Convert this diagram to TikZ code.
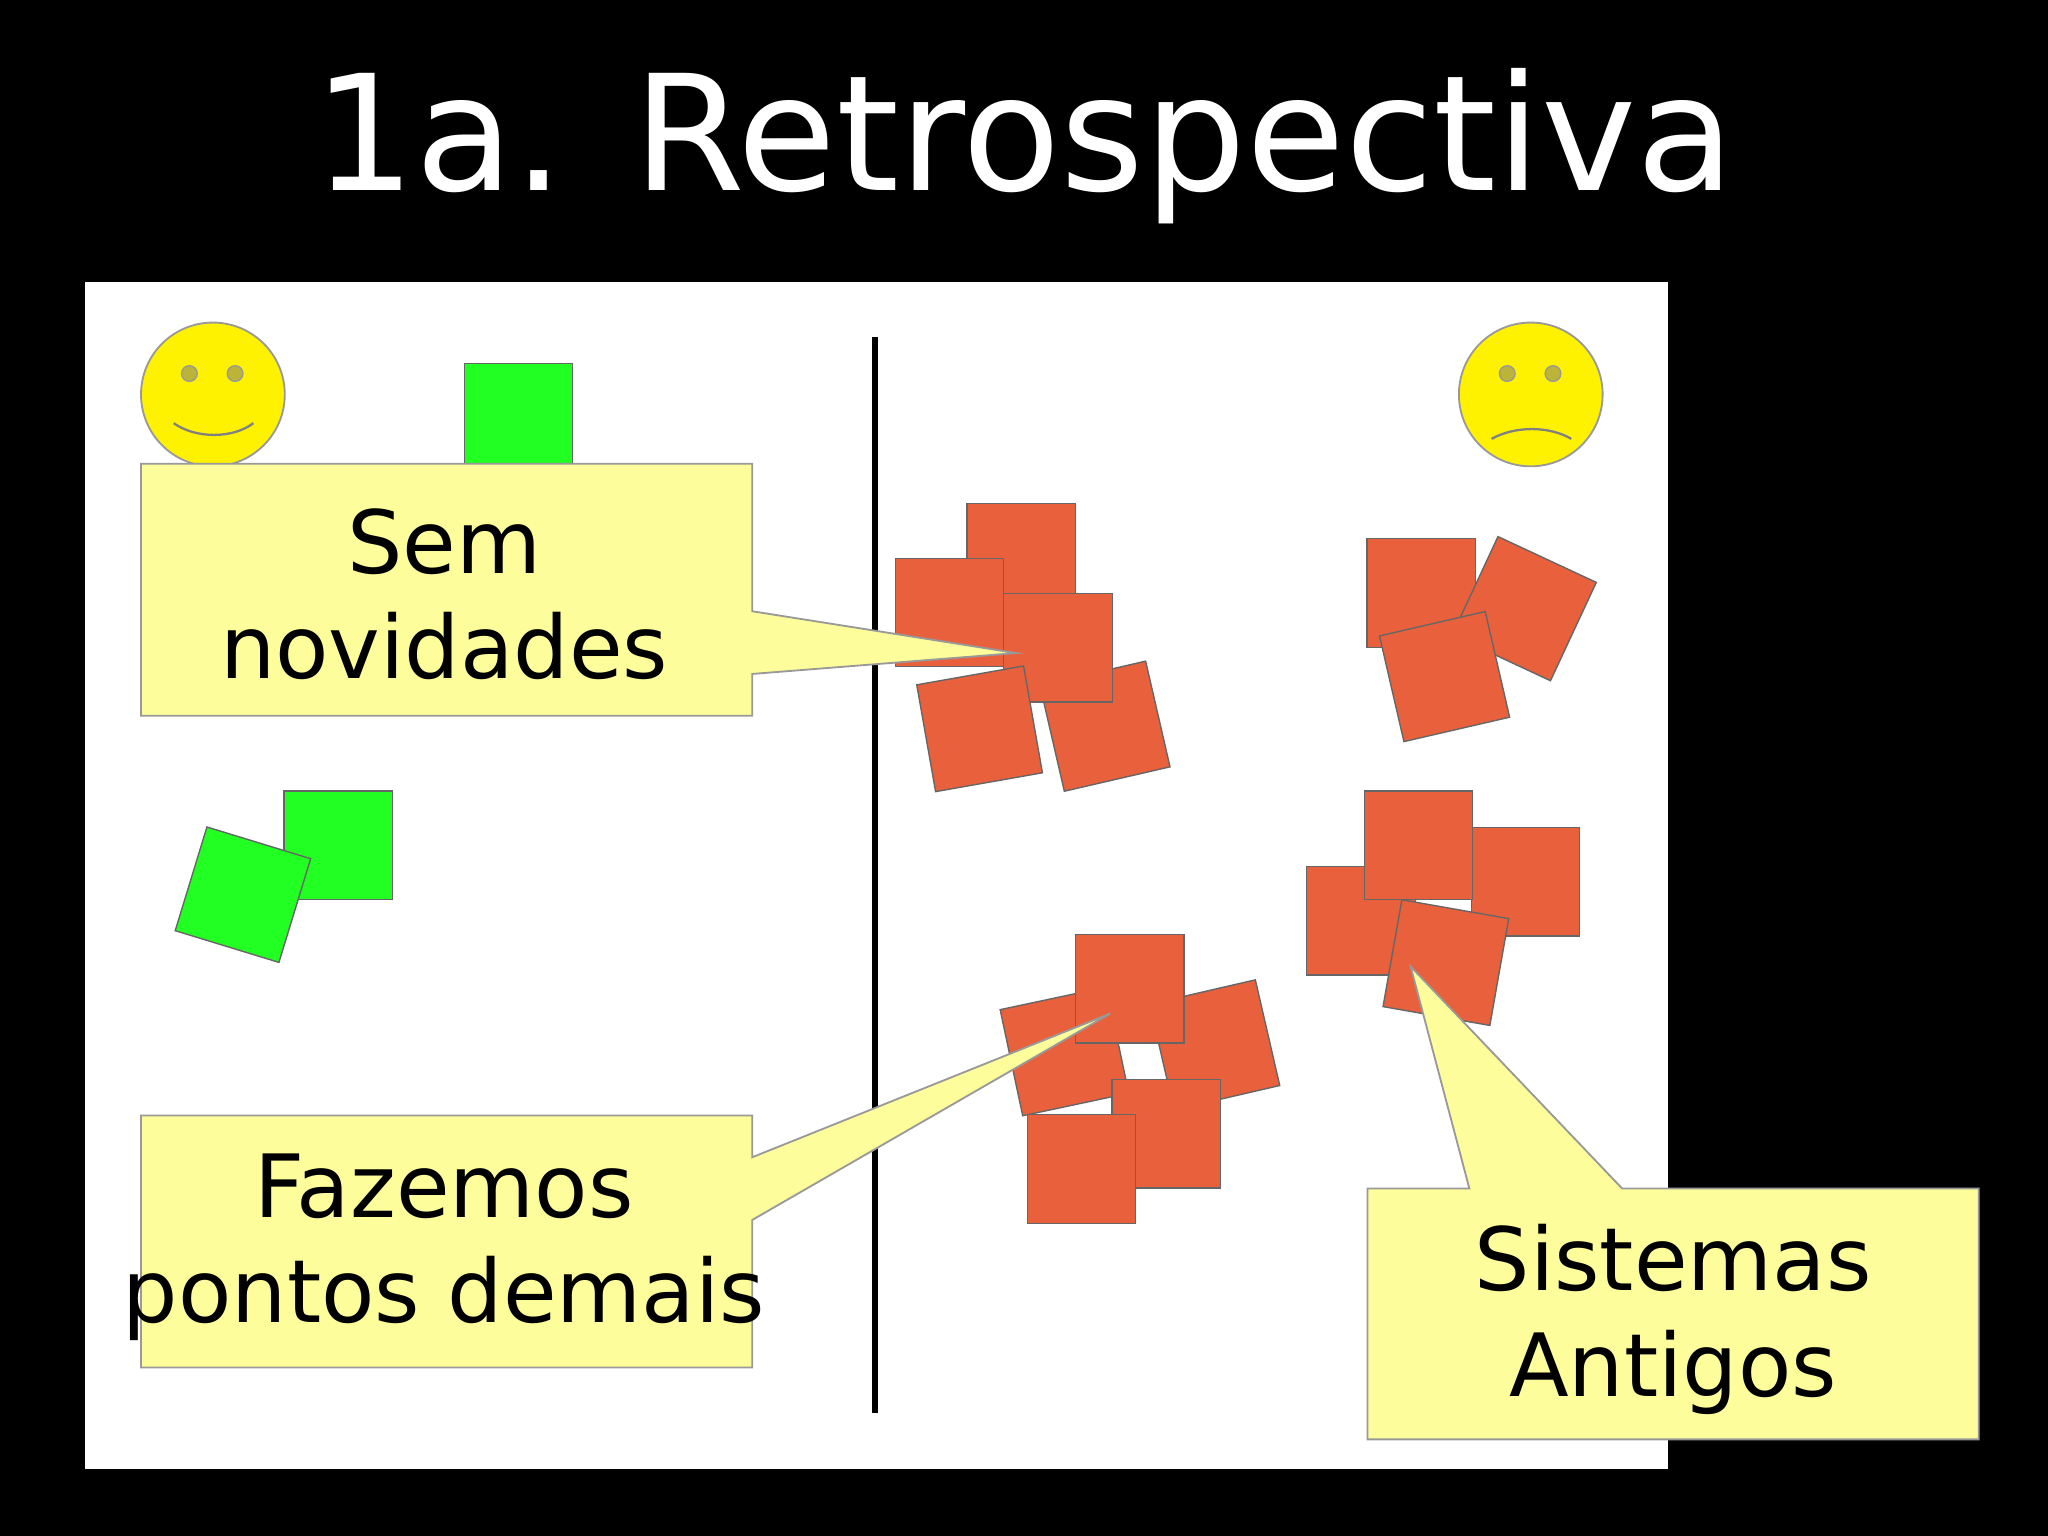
\documentclass[tikz,border=0pt]{standalone}
\usepackage{fontspec}
\setmainfont{DejaVu Sans}
\begin{document}
\begin{tikzpicture}[x=0.01cm,y=-0.01cm,
  red/.style={fill=stickyred, draw=black!60, line width=0.3pt},
  grn/.style={fill=stickygreen, draw=black!60, line width=0.3pt},
  callout/.style={fill=calloutyellow, draw=black!40, line width=0.4pt},
  face/.style={fill=yellow, draw=black!40, line width=0.4pt},
  eye/.style={fill=yellow!70!black, draw=black!40, line width=0.3pt},
  boxtext/.style={font=\fontsize{19}{23}\selectfont, align=center}]
\definecolor{stickyred}{HTML}{E8603C}
\definecolor{stickygreen}{HTML}{22FF22}
\definecolor{calloutyellow}{HTML}{FDFD9C}
\fill[black] (0,0) rectangle (1568,1176);
\useasboundingbox (0,0) rectangle (1568,1176);
\fill[white] (65,216) rectangle (1277,1125);
\node[text=white, font=\fontsize{35}{40}\selectfont] (title) at (784,112) {1a. Retrospectiva};
\coordinate (lt) at (670,258); \coordinate (lb) at (670,1082);
\draw[line width=1.3pt] (lt) -- (lb);
% smileys
\node[face, circle, minimum size=1.1cm, inner sep=0] (happy) at (163,302) {};
\node[eye, circle, minimum size=0.12cm, inner sep=0] (he1) at (145,286) {};
\node[eye, circle, minimum size=0.12cm, inner sep=0] (he2) at (180,286) {};
\draw[black!50, line width=0.5pt] (133,324) .. controls (150,336) and (178,336) .. (194,324);
\node[face, circle, minimum size=1.1cm, inner sep=0] (sad) at (1172,302) {};
\node[eye, circle, minimum size=0.12cm, inner sep=0] (se1) at (1154,286) {};
\node[eye, circle, minimum size=0.12cm, inner sep=0] (se2) at (1189,286) {};
\draw[black!50, line width=0.5pt] (1142,336) .. controls (1160,326) and (1186,326) .. (1203,336);
% green
\newcommand{\sq}[4]{\node[#1, minimum size=0.83cm, inner sep=0, rotate=#4] (#2) at (#3) {};}
\sq{grn}{g1}{397,320}{0}
\sq{grn}{g2}{259,647}{0}
\sq{grn}{g3}{186,685}{-17}
% red top cluster
\sq{red}{r1}{782,427}{0}
\sq{red}{r2}{727,469}{0}
\sq{red}{r4}{846,556}{13}
\sq{red}{r3}{810,496}{0}
\sq{red}{r5}{750,558}{10}
% top right
\sq{red}{r6}{1088,454}{0}
\sq{red}{r7}{1167,466}{-25}
\sq{red}{r8}{1106,518}{13}
% middle right
\sq{red}{r9}{1042,705}{0}
\sq{red}{r10}{1168,675}{0}
\sq{red}{r11}{1086,647}{0}
\sq{red}{r12}{1107,737}{-10}
% bottom
\sq{red}{r13}{815,805}{12}
\sq{red}{r15}{930,800}{13}
\sq{red}{r14}{865,757}{0}
\sq{red}{r16}{893,868}{0}
\sq{red}{r17}{828,895}{0}
% callouts
\coordinate (p1) at (778,500);
\coordinate (p2) at (850,776);
\coordinate (p3) at (1080,740);
\draw[callout] (108,355) -- (576,355) -- (576,468) -- (p1) -- (576,516) -- (576,548) -- (108,548) -- cycle;
\node[boxtext] (c1) at (340,455) {Sem\\novidades};
\draw[callout] (108,854) -- (576,854) -- (576,886) -- (p2) -- (576,934) -- (576,1047) -- (108,1047) -- cycle;
\node[boxtext] (c2) at (340,955) {Fazemos\\pontos demais};
\draw[callout] (1047,910) -- (1125,910) -- (p3) -- (1242,910) -- (1515,910) -- (1515,1102) -- (1047,1102) -- cycle;
\node[boxtext] (c3) at (1281,1010) {Sistemas\\Antigos};
\end{tikzpicture}
\end{document}
